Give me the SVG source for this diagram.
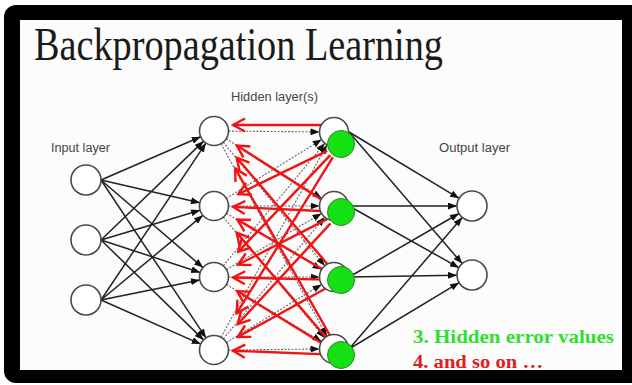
<svg xmlns="http://www.w3.org/2000/svg" width="632" height="385" viewBox="0 0 632 385">
<defs>
<style>
.lbl{font-family:"Liberation Sans",Arial,sans-serif;font-size:12.5px;fill:#444}
.blk{stroke:#222;stroke-width:1.5;fill:none;marker-end:url(#ah)}
.dot{stroke:#666;stroke-width:1.1;stroke-dasharray:2 1.5;fill:none;marker-end:url(#ah)}
.red{stroke:#f01414;stroke-width:2.4;fill:none;marker-end:url(#ra)}
.node{fill:#fff;stroke:#4a4a4a;stroke-width:1.6}
.green{fill:#14e014;stroke:#2a8a2a;stroke-width:1}
</style>
<marker id="ah" markerUnits="userSpaceOnUse" markerWidth="9" markerHeight="7" refX="9" refY="3.5" orient="auto" viewBox="0 0 9 7"><path d="M0,0 L9,3.5 L0,7 z" fill="#111"/></marker>
<marker id="ra" markerUnits="userSpaceOnUse" markerWidth="16" markerHeight="16" refX="14" refY="8" orient="auto" viewBox="0 0 16 16"><path d="M2,1.5 L14,8 L2,14.5" fill="none" stroke="#f01414" stroke-width="2.4"/></marker>
</defs>
<rect x="0" y="0" width="632" height="385" fill="#fff"/>
<rect x="4" y="5" width="660" height="378" rx="12" fill="#000"/>
<rect x="20" y="20" width="602" height="350" fill="#fcfcfc"/>
<text x="34" y="60" font-family="'Liberation Serif','Times New Roman',serif" font-size="47" fill="#1a1a1a" textLength="409" lengthAdjust="spacingAndGlyphs">Backpropagation Learning</text>
<text class="lbl" x="51" y="152" textLength="59" lengthAdjust="spacingAndGlyphs">Input layer</text>
<text class="lbl" x="231" y="101" textLength="87" lengthAdjust="spacingAndGlyphs">Hidden layer(s)</text>
<text class="lbl" x="439" y="152" textLength="71" lengthAdjust="spacingAndGlyphs">Output layer</text>
<g id="connectors">
<g id="in-h1">
<line class="blk" x1="101" y1="180" x2="200.7" y2="136.8"/>
<line class="blk" x1="101" y1="180" x2="199.9" y2="202.8"/>
<line class="blk" x1="101" y1="180" x2="203" y2="267.6"/>
<line class="blk" x1="101" y1="180" x2="206" y2="337.9"/>
<line class="blk" x1="101" y1="240" x2="203.6" y2="141.1"/>
<line class="blk" x1="101" y1="240" x2="200.1" y2="210.2"/>
<line class="blk" x1="101" y1="240" x2="200.2" y2="272.5"/>
<line class="blk" x1="101" y1="240" x2="203.6" y2="339.9"/>
<line class="blk" x1="101" y1="300" x2="205.9" y2="143.1"/>
<line class="blk" x1="101" y1="300" x2="202.8" y2="215.3"/>
<line class="blk" x1="101" y1="300" x2="199.8" y2="279.9"/>
<line class="blk" x1="101" y1="300" x2="200.7" y2="344.1"/>
</g>
<g id="h1-h2">
<line class="dot" x1="228.5" y1="131.1" x2="319.5" y2="131.9"/>
<line class="dot" x1="226.3" y1="138.7" x2="321.7" y2="198.3"/>
<line class="dot" x1="223.2" y1="142.2" x2="324.8" y2="265.8"/>
<line class="dot" x1="221" y1="143.7" x2="327" y2="336.3"/>
<line class="dot" x1="226.3" y1="198.4" x2="321.7" y2="139.6"/>
<line class="dot" x1="228.5" y1="206" x2="319.5" y2="206"/>
<line class="dot" x1="226.5" y1="213.4" x2="321.5" y2="269.6"/>
<line class="dot" x1="223.3" y1="217.1" x2="324.7" y2="337.9"/>
<line class="dot" x1="223.2" y1="265.8" x2="324.8" y2="143.2"/>
<line class="dot" x1="226.5" y1="269.6" x2="321.5" y2="213.4"/>
<line class="dot" x1="228.5" y1="277" x2="319.5" y2="277"/>
<line class="dot" x1="226.4" y1="284.5" x2="321.6" y2="341.5"/>
<line class="dot" x1="221" y1="337.3" x2="327" y2="144.7"/>
<line class="dot" x1="223.3" y1="338.9" x2="324.7" y2="217.1"/>
<line class="dot" x1="226.4" y1="342.5" x2="321.6" y2="284.5"/>
<line class="dot" x1="228.5" y1="350" x2="319.5" y2="349"/>
</g>
<g id="backprop">
<line class="red" x1="322" y1="125" x2="233" y2="125"/>
<line class="red" x1="327.9" y1="203.7" x2="236.8" y2="145.5"/>
<line class="red" x1="330.9" y1="268.2" x2="236.7" y2="157.6"/>
<line class="red" x1="333.4" y1="341.5" x2="235.2" y2="168.4"/>
<line class="red" x1="327.1" y1="150.8" x2="238.3" y2="194.1"/>
<line class="red" x1="325.5" y1="211.3" x2="233" y2="206.9"/>
<line class="red" x1="327.6" y1="272.2" x2="237.3" y2="219.6"/>
<line class="red" x1="330.9" y1="343.2" x2="236.7" y2="232.6"/>
<line class="red" x1="330.3" y1="155.2" x2="238.2" y2="251.7"/>
<line class="red" x1="327.2" y1="219.1" x2="238" y2="264.7"/>
<line class="red" x1="325.5" y1="279.6" x2="233" y2="277.5"/>
<line class="red" x1="327.8" y1="346.9" x2="237" y2="291.1"/>
<line class="red" x1="332.9" y1="157.2" x2="236.6" y2="313.4"/>
<line class="red" x1="330.5" y1="223.4" x2="237.7" y2="324.2"/>
<line class="red" x1="327.4" y1="287.5" x2="237.7" y2="337"/>
<line class="red" x1="325.5" y1="354.4" x2="233" y2="350.7"/>
</g>
<g id="h2-out">
<line class="blk" x1="349" y1="132" x2="459.1" y2="198.3"/>
<line class="blk" x1="349" y1="132" x2="462.2" y2="263.6"/>
<line class="blk" x1="349" y1="206" x2="457" y2="206"/>
<line class="blk" x1="349" y1="206" x2="458.9" y2="267.7"/>
<line class="blk" x1="349" y1="277" x2="459" y2="213.5"/>
<line class="blk" x1="349" y1="277" x2="457" y2="275.2"/>
<line class="blk" x1="349" y1="349" x2="462.2" y2="217.4"/>
<line class="blk" x1="349" y1="349" x2="459.1" y2="282.7"/>
</g>
</g>
<g id="in1"><circle class="node" cx="86" cy="180" r="15"/></g>
<g id="in2"><circle class="node" cx="86" cy="240" r="15"/></g>
<g id="in3"><circle class="node" cx="86" cy="300" r="15"/></g>
<g id="h1a"><circle class="node" cx="214" cy="131" r="14.5"/></g>
<g id="h1b"><circle class="node" cx="214" cy="206" r="14.5"/></g>
<g id="h1c"><circle class="node" cx="214" cy="277" r="14.5"/></g>
<g id="h1d"><circle class="node" cx="214" cy="350" r="14.5"/></g>
<g id="h2a"><circle class="node" cx="334" cy="132" r="14.5"/><circle class="green" cx="341" cy="144" r="13.5"/></g>
<g id="h2b"><circle class="node" cx="334" cy="206" r="14.5"/><circle class="green" cx="341" cy="212" r="13.5"/></g>
<g id="h2c"><circle class="node" cx="334" cy="277" r="14.5"/><circle class="green" cx="341" cy="280" r="13.5"/></g>
<g id="h2d"><circle class="node" cx="334" cy="349" r="14.5"/><circle class="green" cx="341" cy="355" r="13.5"/></g>
<g id="out1"><circle class="node" cx="472" cy="206" r="15"/></g>
<g id="out2"><circle class="node" cx="472" cy="275" r="15"/></g>
<text x="413" y="343" font-family="'Liberation Serif','Times New Roman',serif" font-weight="bold" font-size="18" fill="#2ee02e" textLength="201" lengthAdjust="spacingAndGlyphs">3. Hidden error values</text>
<text x="413" y="368" font-family="'Liberation Serif','Times New Roman',serif" font-weight="bold" font-size="18" fill="#e02020" textLength="130" lengthAdjust="spacingAndGlyphs">4. and so on …</text>
</svg>
